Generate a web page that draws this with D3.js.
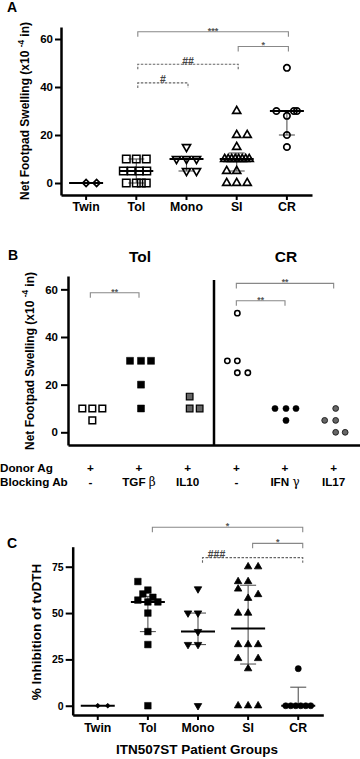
<!DOCTYPE html>
<html><head><meta charset="utf-8">
<script src="https://cdn.jsdelivr.net/npm/d3@7"></script>
<style>
body{margin:0;background:#fff}
svg{display:block}
text{font-family:"Liberation Sans",Arial,Helvetica,sans-serif;font-weight:bold;fill:#000}
</style>
</head><body>
<svg id="c" width="360" height="759"></svg>
<script>
// ================= DATA =================
// Panel A
const catsA = ["Twin","Tol","Mono","SI","CR"];
const valsA = [
  [0,0],
  [10,10,10,5,5,5,5,0,0,0,0],
  [15,10,10,10,5,5],
  [30,20,20,15,10,10,10,10,10,10,10,10,5,5,0,0,0],
  [48,30,28,30,30,20,15]
];
const medA = [0,5,10,10,30];
const q1A  = [0,0,5,5,20];
const q3A  = [0,10,10,12.5,30];
const ticksA = [0,20,40,60];
const sigA = [
  {from:"Tol", to:"CR",   level:63,   label:"***", dashed:false},
  {from:"SI",  to:"CR",   level:56.9, label:"*",   dashed:false},
  {from:"Tol", to:"SI",   level:49.5, label:"##",  dashed:true},
  {from:"Tol", to:"Mono", level:41.7, label:"#",   dashed:true}
];

// Panel B
const colsB   = ["Tol -","Tol TGFb","Tol IL10","CR -","CR IFNg","CR IL17"];
const donorB  = ["+","+","+","+","+","+"];
const blockB  = [["-",""],["TGF ","β"],["IL10",""],["-",""],["IFN ","γ"],["IL17",""]];
const titlesB = ["Tol","CR"];
const valsB = [
  [10,10,10,5],
  [30,30,30,20,10],
  [15,10,10],
  [50,30,30,25,25],
  [10,10,10,5],
  [10,5,5,0,0]
];
const ticksB = [0,20,40,60];
const sigB = [
  {from:"Tol -", to:"Tol TGFb", level:58.6, label:"**"},
  {from:"CR -",  to:"CR IL17",  level:62.5, label:"**"},
  {from:"CR -",  to:"CR IFNg",  level:55.2, label:"**"}
];

// Panel C
const catsC = ["Twin","Tol","Mono","SI","CR"];
const valsC = [
  [0,0],
  [67,62.4,60.3,58.5,57,56,56,50,40,33,0],
  [63,50,50,40,33,33,0],
  [75,75,67,67,63,60,58,50,50,33,33,33,25.5,25.5,20,0,0,0],
  [20,0,0,0,0,0,0]
];
const medC = [0,56,40,41.7,0];
const q1C  = [0,40,33,22.5,0];
const q3C  = [0,59,50,65,10];
const ticksC = [0,25,50,75];
const sigC = [
  {from:"Tol",  to:"CR", level:96.3, label:"*",   dashed:false, pos:0.5},
  {from:"SI",   to:"CR", level:87.6, label:"*",   dashed:false, pos:0.5},
  {from:"Mono", to:"CR", level:79.9, label:"###", dashed:true,  pos:0.14}
];

// ===== layout helpers (jitter slots: horizontal order of tied points) =====
const slotsA = [
  [0,1.05],
  [-1,0,1,-1.3,-0.5,0.3,1.05,-1,0,0.5,1],
  [0,-1,0,1,0,1],
  [0,0,1.05,0,-1.2,-0.85,-0.5,-0.15,0.2,0.55,0.9,1.25,-1,0,-1,0,1.05],
  [0,-1.05,0,0.7,1,0,0]
];
const slotsB = [
  [-1,0,1,0],
  [-1.1,0,1,0,0],
  [0,0,1],
  [-0.1,-1.1,-0.1,-0.1,0.95],
  [-1.2,-0.1,0.9,-0.1],
  [0,-1.1,0,0,0.95]
];
const slotsC = [
  [0,1],
  [-1,0,-0.5,0.5,-1,0,1,0,0,0,0],
  [0,-1,0,0,-1,0,0],
  [0,1,-1,0,-1,1,0,-1,0,-1,0,1,-1,1,0,-1,0,1],
  [0,-1.25,-0.75,-0.25,0.25,0.75,1.25]
];

// ================= DRAW =================
const svg = d3.select("#c");
const jit = d3.scaleLinear().domain([0,1]).range([0,10]);

const symType = {square:d3.symbolSquare, circle:d3.symbolCircle, triUp:d3.symbolTriangle, triDown:d3.symbolTriangle, diamond:d3.symbolSquare};
const symRot = {square:0, circle:0, triUp:0, triDown:180, diamond:45};

function drawPoints(g, x, y, cats, vals, slots, styles) {
  cats.forEach((c, i) => {
    const st = styles[i];
    const cx = x(c) + x.bandwidth()/2;
    const pts = vals[i].map((v, j) => ({v, s: slots[i][j]}));
    g.append("g").selectAll("path").data(pts).join("path")
      .attr("d", d3.symbol().type(symType[st.shape]).size(st.size))
      .attr("transform", d => `translate(${cx + jit(d.s)},${y(d.v)}) rotate(${symRot[st.shape]})`)
      .attr("fill", st.fill)
      .attr("stroke", st.stroke)
      .attr("stroke-width", st.sw);
  });
}

function drawStats(g, x, y, cats, med, q1, q3, medHalf, capHalf) {
  cats.forEach((c, i) => {
    const cx = x(c) + x.bandwidth()/2;
    if (q3[i] !== q1[i]) {
      g.append("line").attr("x1", cx).attr("x2", cx).attr("y1", y(q1[i])).attr("y2", y(q3[i]))
        .attr("stroke", "#555").attr("stroke-width", 1.1);
      [q1[i], q3[i]].forEach(q => {
        g.append("line").attr("x1", cx - capHalf).attr("x2", cx + capHalf).attr("y1", y(q)).attr("y2", y(q))
          .attr("stroke", "#555").attr("stroke-width", 1.1);
      });
    }
    g.append("line").attr("x1", cx - medHalf).attr("x2", cx + medHalf).attr("y1", y(med[i])).attr("y2", y(med[i]))
      .attr("stroke", "#000").attr("stroke-width", 2);
  });
}

function drawBracket(g, x, y, b, shift, fsz, labelDy) {
  const x1 = x(b.from) + x.bandwidth()/2 + shift;
  const x2 = x(b.to) + x.bandwidth()/2 + shift;
  const yy = y(b.level);
  const col = b.dashed ? "#666" : "#888";
  g.append("path").attr("d", `M${x1},${yy+5}V${yy}H${x2}V${yy+5}`)
    .attr("fill","none").attr("stroke", col).attr("stroke-width", 1.1)
    .attr("stroke-dasharray", b.dashed ? "2.5,1.5" : null);
  const pos = b.pos === undefined ? 0.5 : b.pos;
  const isHash = b.label[0] === "#";
  g.append("text").attr("x", x1 + (x2 - x1) * pos).attr("y", yy + (isHash ? 0.5 : labelDy))
    .attr("text-anchor","middle").attr("font-size", isHash ? 10.5 : fsz)
    .attr("font-weight", isHash ? "normal" : "bold")
    .style("fill", isHash ? "#444" : "#555").text(b.label);
}

function styleAxis(g, fs) {
  g.select(".domain").attr("stroke","#000").attr("stroke-width",2.5);
  g.selectAll(".tick line").attr("stroke","#000").attr("stroke-width",2);
  g.selectAll(".tick text").attr("font-size", fs).attr("font-weight","bold")
    .attr("font-family",'"Liberation Sans",Arial,sans-serif').attr("fill","#000");
}

function yLabel(parts, xBase, yCenter, fs) {
  const t = svg.append("text").attr("transform", `translate(${xBase},${yCenter}) rotate(-90)`)
    .attr("text-anchor","middle").attr("font-size", fs);
  parts.forEach(p => {
    const ts = t.append("tspan").text(p.t);
    if (p.sup) ts.attr("font-size", fs*0.68).attr("dy", -fs*0.42);
    if (p.after) ts.attr("dy", fs*0.42);
  });
}

// ---------- Panel A ----------
{
  const x = d3.scaleBand().domain(catsA).range([61, 312]);
  const y = d3.scaleLinear().domain([-5, 65]).range([195, 27]);
  const g = svg.append("g");
  svg.append("text").attr("x", 7).attr("y", 12).attr("font-size", 14).text("A");

  const ya = g.append("g").attr("transform","translate(61,0)")
    .call(d3.axisLeft(y).tickValues(ticksA).tickSize(6).tickSizeOuter(0).tickPadding(2).tickFormat(d3.format("d")));
  styleAxis(ya, 11.5);
  const xa = g.append("g").attr("transform","translate(0,195)")
    .call(d3.axisBottom(x).tickSize(5).tickSizeOuter(0).tickPadding(2));
  styleAxis(xa, 12.3);

  sigA.forEach(b => drawBracket(g, x, y, b, 1.5, 9, 2));
  drawStats(g, x, y, catsA, medA, q1A, q3A, 17, 8);
  drawPoints(g, x, y, catsA, valsA, slotsA, [
    {shape:"diamond", size:24, fill:"none", stroke:"#000", sw:1.7},
    {shape:"square",  size:56, fill:"none", stroke:"#000", sw:1.5},
    {shape:"triDown", size:28, fill:"none", stroke:"#000", sw:1.7},
    {shape:"triUp",   size:28, fill:"none", stroke:"#000", sw:1.7},
    {shape:"circle",  size:32, fill:"none", stroke:"#000", sw:1.7}
  ]);
  yLabel([{t:"Net Footpad Swelling (x10 "},{t:"-4",sup:true},{t:" in)",after:true}], 29, 111, 12);
}

// ---------- Panel B ----------
{
  const x = d3.scaleBand().domain(colsB).range([68, 360]);
  const y = d3.scaleLinear().domain([-5.33, 65.6]).range([445, 276]);
  const g = svg.append("g");
  svg.append("text").attr("x", 8).attr("y", 260).attr("font-size", 14).text("B");

  const ya = g.append("g").attr("transform","translate(68,0)")
    .call(d3.axisLeft(y).tickValues(ticksB).tickSize(7).tickSizeOuter(0).tickPadding(3).tickFormat(d3.format("d")));
  styleAxis(ya, 11.5);
  const xa = g.append("g").attr("transform","translate(0,445)")
    .call(d3.axisBottom(x).tickValues([]).tickSizeOuter(0));
  styleAxis(xa, 12);
  // divider between Tol and CR groups
  g.append("line").attr("x1", x(colsB[3])).attr("x2", x(colsB[3])).attr("y1", 280).attr("y2", 445)
    .attr("stroke","#000").attr("stroke-width",2.5);

  titlesB.forEach((t, i) => {
    const c = colsB[i*3 + 1];
    svg.append("text").attr("x", x(c) + x.bandwidth()/2 - 1).attr("y", 261.5)
      .attr("text-anchor","middle").attr("font-size", 15.5).text(t);
  });

  sigB.forEach(b => drawBracket(g, x, y, b, -2, 8.5, 2));
  drawPoints(g, x, y, colsB, valsB, slotsB, [
    {shape:"square", size:44, fill:"#fff", stroke:"#000", sw:1.5},
    {shape:"square", size:49, fill:"#000", stroke:"#000", sw:0.5},
    {shape:"square", size:44, fill:"#666", stroke:"#000", sw:1.2},
    {shape:"circle", size:22, fill:"#fff", stroke:"#000", sw:1.6},
    {shape:"circle", size:30, fill:"#000", stroke:"#000", sw:0.5},
    {shape:"circle", size:26, fill:"#666", stroke:"#222", sw:1}
  ]);

  // row labels
  svg.append("text").attr("x", 0).attr("y", 471.5).attr("font-size", 11.7).text("Donor Ag");
  svg.append("text").attr("x", 0).attr("y", 486).attr("font-size", 11.7).text("Blocking Ab");
  colsB.forEach((c, i) => {
    const cx = x(c) + x.bandwidth()/2 - 2;
    svg.append("text").attr("x", cx).attr("y", 471.5).attr("text-anchor","middle").attr("font-size", 11.7).text(donorB[i]);
    const t = svg.append("text").attr("x", cx).attr("y", 486).attr("text-anchor","middle").attr("font-size", 11.7);
    t.append("tspan").text(blockB[i][0]);
    if (blockB[i][1]) t.append("tspan").attr("font-family",'"DejaVu Serif","Liberation Serif",serif')
      .attr("font-weight","normal").attr("font-size", 12).text(blockB[i][1]);
  });
  yLabel([{t:"Net Footpad Swelling (x10 "},{t:"-4",sup:true},{t:" in)",after:true}], 33.5, 361, 12);
}

// ---------- Panel C ----------
{
  const x = d3.scaleBand().domain(catsC).range([72.7, 323.3]);
  const y = d3.scaleLinear().domain([-5, 85.8]).range([715, 546.7]);
  const g = svg.append("g");
  svg.append("text").attr("x", 7).attr("y", 548).attr("font-size", 14).text("C");

  const ya = g.append("g").attr("transform","translate(72.7,0)")
    .call(d3.axisLeft(y).tickValues(ticksC).tickSize(7).tickSizeOuter(0).tickPadding(2).tickFormat(d3.format("d")));
  styleAxis(ya, 10.5);
  const xa = g.append("g").attr("transform","translate(0,715)")
    .call(d3.axisBottom(x).tickSize(5).tickSizeOuter(0).tickPadding(3));
  styleAxis(xa, 12.3);

  sigC.forEach(b => drawBracket(g, x, y, b, 4.5, 9, 2));
  drawStats(g, x, y, catsC, medC, q1C, q3C, 17, 8);
  drawPoints(g, x, y, catsC, valsC, slotsC, [
    {shape:"diamond", size:9,  fill:"#000", stroke:"#000", sw:1},
    {shape:"square",  size:44, fill:"#000", stroke:"#000", sw:0.5},
    {shape:"triDown", size:24, fill:"#000", stroke:"#000", sw:0.8},
    {shape:"triUp",   size:24, fill:"#000", stroke:"#000", sw:0.8},
    {shape:"circle",  size:30, fill:"#000", stroke:"#000", sw:0.5}
  ]);
  yLabel([{t:"% Inhibition of tvDTH"}], 41, 632, 13.5);
  svg.append("text").attr("x", x("Mono") + x.bandwidth()/2 - 1).attr("y", 754)
    .attr("text-anchor","middle").attr("font-size", 13.5).text("ITN507ST Patient Groups");
}
</script>
</body></html>
